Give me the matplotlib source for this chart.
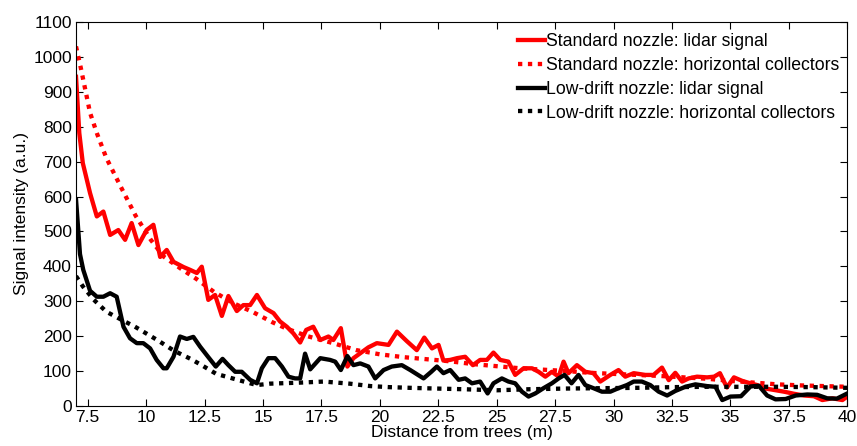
import numpy as np
import matplotlib
matplotlib.use("Agg")
import matplotlib.pyplot as plt

plt.rcParams["font.family"] = ["Liberation Sans", "DejaVu Sans"]

# Standard nozzle: lidar signal
std_lidar_x = [7.0, 7.14, 7.29, 7.6, 7.89, 8.17, 8.46, 8.81, 9.1, 9.38, 9.67, 10.02,
               10.31, 10.6, 10.88, 11.17, 11.6, 11.88, 12.17, 12.38, 12.66, 12.95,
               13.24, 13.52, 13.88, 14.16, 14.45, 14.74, 15.09, 15.45, 15.73, 16.02,
               16.3, 16.59, 16.85, 17.15, 17.45, 17.8, 18.01, 18.33, 18.61, 18.87,
               19.16, 19.51, 19.87, 20.37, 20.73, 21.15, 21.58, 21.9, 22.23, 22.51,
               22.72, 23.01, 23.3, 23.65, 23.98, 24.29, 24.58, 24.86, 25.15, 25.5,
               25.79, 26.15, 26.51, 26.79, 27.08, 27.36, 27.65, 27.86, 28.07, 28.43,
               28.79, 29.14, 29.43, 29.86, 30.21, 30.5, 30.86, 31.36, 31.71, 32.07,
               32.36, 32.64, 32.93, 33.21, 33.57, 34.0, 34.3, 34.55, 34.85, 35.15,
               35.5, 35.8, 36.14, 36.5, 36.86, 37.29, 37.72, 38.15, 38.57, 38.93,
               39.36, 39.79, 40.0]
std_lidar_y = [943, 782, 696, 610, 543, 557, 490, 504, 476, 524, 461, 504,
               519, 427, 447, 413, 398, 390, 381, 399, 304, 318,
               258, 315, 272, 289, 289, 318, 280, 266, 242, 227,
               208, 182, 218, 227, 189, 199, 189, 223, 113, 137,
               151, 168, 180, 175, 213, 186, 160, 196, 165, 175,
               130, 132, 137, 141, 117, 132, 132, 153, 132, 127,
               89, 108, 108, 98, 84, 98, 84, 127, 94, 117,
               98, 94, 70, 89, 103, 84, 94, 89, 89, 110,
               74, 95, 70, 79, 84, 82, 84, 94, 53, 82,
               72, 66, 60, 50, 46, 41, 35, 30, 28, 17,
               22, 17, 27]

# Standard nozzle: horizontal collectors
std_coll_x = [7.0, 7.2, 7.4, 7.6, 7.9, 8.3, 8.9, 9.55, 10.2, 10.75, 11.45, 12.15,
              12.9, 13.75, 14.6, 15.4, 16.0, 16.9, 18.0, 19.0, 20.0, 21.0, 22.0,
              23.0, 24.0, 25.0, 26.0, 27.0, 28.0, 29.0, 30.0, 31.0, 32.0, 33.0,
              34.0, 35.0, 36.0, 37.0, 38.0, 39.0, 40.0]
std_coll_y = [1030, 970, 905, 840, 780, 710, 630, 545, 476, 428, 395, 364,
              327, 294, 268, 240, 222, 200, 180, 160, 148, 140, 134,
              128, 120, 114, 108, 104, 100, 95, 92, 89, 86, 82,
              78, 72, 67, 62, 59, 57, 55]

# Low-drift nozzle: lidar signal
ld_lidar_x = [7.0, 7.17, 7.31, 7.6, 7.89, 8.17, 8.46, 8.74, 9.03, 9.31, 9.6, 9.88,
              10.17, 10.45, 10.74, 10.88, 11.17, 11.45, 11.74, 12.02, 12.31, 12.66,
              12.98, 13.27, 13.52, 13.81, 14.09, 14.45, 14.74, 14.95, 15.23, 15.52,
              15.81, 16.09, 16.37, 16.59, 16.8, 17.02, 17.45, 17.87, 18.09, 18.33,
              18.61, 18.87, 19.16, 19.51, 19.8, 20.16, 20.51, 20.94, 21.3, 21.87,
              22.2, 22.44, 22.72, 23.01, 23.37, 23.65, 23.94, 24.29, 24.61, 24.86,
              25.22, 25.5, 25.79, 26.08, 26.36, 26.65, 27.0, 27.36, 27.65, 27.9,
              28.2, 28.5, 28.79, 29.14, 29.5, 29.86, 30.21, 30.57, 30.86, 31.21,
              31.57, 31.93, 32.29, 32.64, 33.07, 33.5, 34.0, 34.36, 34.65, 35.0,
              35.45, 35.86, 36.21, 36.57, 36.93, 37.36, 37.79, 38.29, 38.71, 39.14,
              39.55, 40.0]
ld_lidar_y = [592, 435, 390, 330, 313, 313, 323, 313, 227, 194, 180, 180,
              165, 132, 108, 108, 141, 199, 192, 198, 170, 140,
              113, 135, 117, 98, 98, 75, 65, 108, 137, 137,
              113, 84, 79, 79, 150, 105, 137, 132, 127, 103,
              143, 117, 122, 113, 79, 103, 113, 117, 103, 79,
              98, 113, 94, 103, 75, 79, 65, 70, 36, 65,
              79, 70, 65, 41, 27, 36, 51, 65, 79, 89,
              65, 89, 60, 51, 41, 41, 51, 60, 70, 70,
              60, 41, 30, 43, 55, 62, 57, 55, 17, 27,
              28, 56, 58, 30, 19, 20, 30, 33, 32, 22,
              21, 36]

# Low-drift nozzle: horizontal collectors
ld_coll_x = [7.0, 7.3, 7.75, 8.3, 9.0, 9.5, 10.0, 10.5, 11.2, 11.9, 12.35, 13.0,
             13.75, 14.45, 14.75, 15.3, 16.6, 17.6, 18.7, 19.6, 20.4, 21.3, 22.4,
             23.6, 25.0, 26.4, 28.0, 29.5, 31.0, 32.5, 34.0, 35.5, 37.0, 38.5, 40.0]
ld_coll_y = [372, 342, 305, 270, 245, 228, 208, 188, 158, 135, 118, 92,
             78, 65, 60, 64, 67, 70, 64, 57, 54, 52, 50,
             48, 45, 48, 50, 51, 52, 54, 55, 55, 55, 54, 52]

labels = ["Standard nozzle: lidar signal",
          "Standard nozzle: horizontal collectors",
          "Low-drift nozzle: lidar signal",
          "Low-drift nozzle: horizontal collectors"]

x_ticks = [7.5, 10, 12.5, 15, 17.5, 20, 22.5, 25, 27.5, 30, 32.5, 35, 37.5, 40]
y_ticks = list(range(0, 1200, 100))

fig = plt.figure(figsize=(8.57, 4.46), dpi=100)
ax = fig.add_axes([0.0887, 0.0897, 0.9, 0.861])

lw = 3.1
dots = (0, (1, 1.3))
ax.plot(std_lidar_x, std_lidar_y, color="#ff0000", lw=lw, label=labels[0])
ax.plot(std_coll_x, std_coll_y, color="#ff0000", lw=lw, ls=dots,
        dash_capstyle="butt", label=labels[1])
ax.plot(ld_lidar_x, ld_lidar_y, color="black", lw=lw, label=labels[2])
ax.plot(ld_coll_x, ld_coll_y, color="black", lw=lw, ls=dots,
        dash_capstyle="butt", label=labels[3])

ax.set_xlim(7, 40)
ax.set_ylim(0, 1100)
ax.set_xticks(x_ticks)
ax.set_xticklabels([("%g" % t) for t in x_ticks])
ax.set_yticks(y_ticks)
ax.tick_params(direction="in", top=True, right=True, labelsize=12.5, length=5,
               width=0.8, pad=3)
for s in ax.spines.values():
    s.set_linewidth(0.8)

ax.set_xlabel("Distance from trees (m)", fontsize=12.5, labelpad=0)
ax.set_ylabel("Signal intensity (a.u.)", fontsize=12.5, labelpad=3)

ax.legend(loc="upper right", frameon=False, fontsize=12.7, handlelength=1.5,
          handletextpad=0.1, labelspacing=0.38, borderaxespad=0.25,
          bbox_to_anchor=(1.005, 1.0))

fig.savefig("out.png", dpi=100)
